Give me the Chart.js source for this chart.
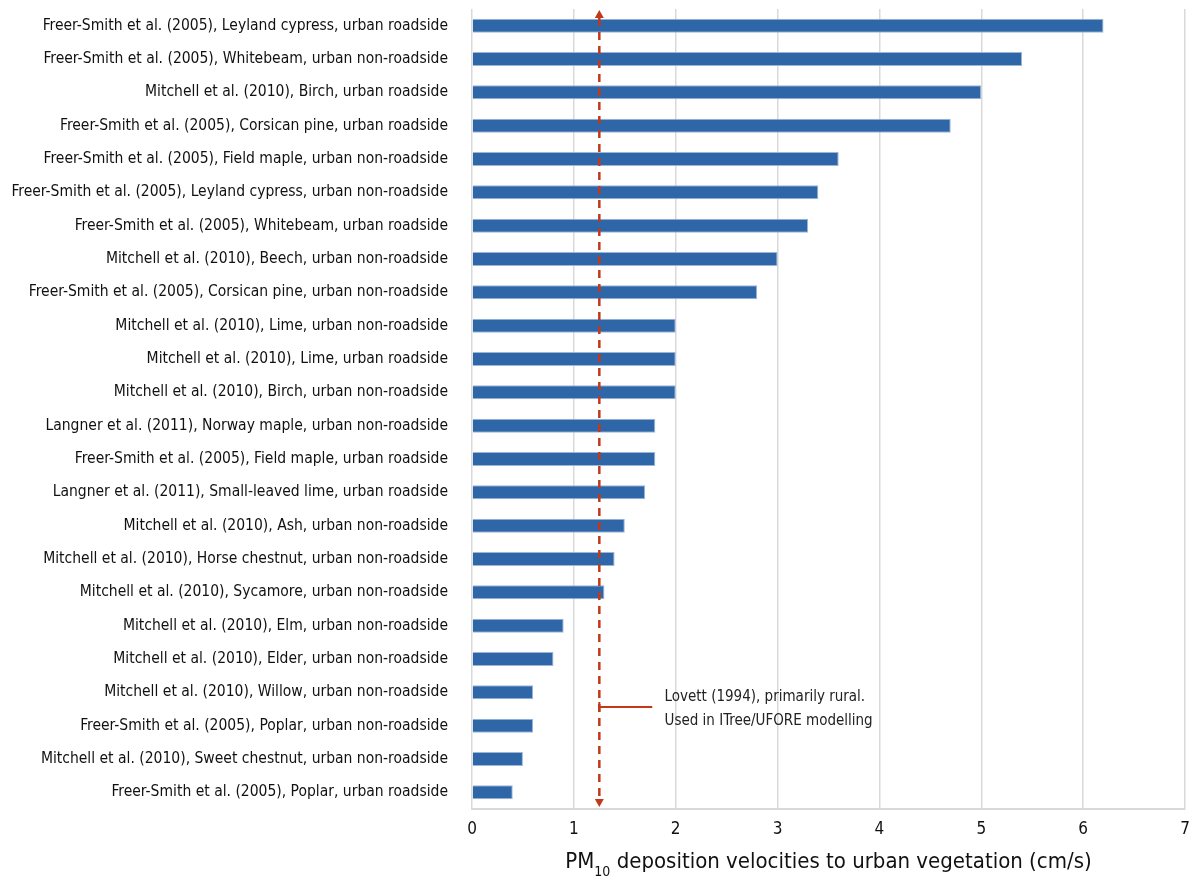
<!DOCTYPE html>
<html>
<head>
<meta charset="utf-8">
<script src="https://cdn.jsdelivr.net/npm/chart.js@4/dist/chart.umd.min.js"></script>
<style>
html,body{margin:0;padding:0;background:#fff;}
#wrap{width:1199px;height:881px;}
</style>
</head>
<body>
<div id="wrap"><canvas id="c" width="1199" height="881"></canvas></div>
<script>
const categories = [
  "Freer-Smith et al. (2005), Leyland cypress, urban roadside",
  "Freer-Smith et al. (2005), Whitebeam, urban non-roadside",
  "Mitchell et al. (2010), Birch, urban roadside",
  "Freer-Smith et al. (2005), Corsican pine, urban roadside",
  "Freer-Smith et al. (2005), Field maple, urban non-roadside",
  "Freer-Smith et al. (2005), Leyland cypress, urban non-roadside",
  "Freer-Smith et al. (2005), Whitebeam, urban roadside",
  "Mitchell et al. (2010), Beech, urban non-roadside",
  "Freer-Smith et al. (2005), Corsican pine, urban non-roadside",
  "Mitchell et al. (2010), Lime, urban non-roadside",
  "Mitchell et al. (2010), Lime, urban roadside",
  "Mitchell et al. (2010), Birch, urban non-roadside",
  "Langner et al. (2011), Norway maple, urban non-roadside",
  "Freer-Smith et al. (2005), Field maple, urban roadside",
  "Langner et al. (2011), Small-leaved lime, urban roadside",
  "Mitchell et al. (2010), Ash, urban non-roadside",
  "Mitchell et al. (2010), Horse chestnut, urban non-roadside",
  "Mitchell et al. (2010), Sycamore, urban non-roadside",
  "Mitchell et al. (2010), Elm, urban non-roadside",
  "Mitchell et al. (2010), Elder, urban non-roadside",
  "Mitchell et al. (2010), Willow, urban non-roadside",
  "Freer-Smith et al. (2005), Poplar, urban non-roadside",
  "Mitchell et al. (2010), Sweet chestnut, urban non-roadside",
  "Freer-Smith et al. (2005), Poplar, urban roadside"
];
const depositionVelocity = [6.2, 5.4, 5.0, 4.7, 3.6, 3.4, 3.3, 3.0, 2.8, 2.0, 2.0, 2.0, 1.8, 1.8, 1.7, 1.5, 1.4, 1.3, 0.9, 0.8, 0.6, 0.6, 0.5, 0.4];
const xTicks = [0, 1, 2, 3, 4, 5, 6, 7];
const lovettValue = 1.25;
const lovettLabel = ["Lovett (1994), primarily rural.", "Used in ITree/UFORE modelling"];
const lovettLabelCategory = 20.5; // between Willow and Poplar rows
const axisTitleMain = "PM";
const axisTitleSub = "10";
const axisTitleRest = " deposition velocities to urban vegetation (cm/s)";

const FONT = "'Liberation Sans Narrow', 'DejaVu Sans Condensed', 'Roboto', sans-serif";
const RED = "#c0391b";

const annotationPlugin = {
  id: 'lovett',
  afterDatasetsDraw(chart) {
    const ctx = chart.ctx;
    const xs = chart.scales.x, ys = chart.scales.y;
    const area = chart.chartArea;
    const px = xs.getPixelForValue(lovettValue);
    const top = area.top + 1, bottom = area.bottom - 2;
    ctx.save();
    ctx.strokeStyle = RED;
    ctx.fillStyle = RED;
    ctx.lineWidth = 2.5;
    ctx.setLineDash([8, 6]);
    ctx.beginPath();
    ctx.moveTo(px, top + 8);
    ctx.lineTo(px, bottom - 8);
    ctx.stroke();
    ctx.setLineDash([]);
    // arrow heads
    ctx.beginPath();
    ctx.moveTo(px, top); ctx.lineTo(px - 4.5, top + 8); ctx.lineTo(px + 4.5, top + 8); ctx.closePath(); ctx.fill();
    ctx.beginPath();
    ctx.moveTo(px, bottom); ctx.lineTo(px - 4.5, bottom - 8); ctx.lineTo(px + 4.5, bottom - 8); ctx.closePath(); ctx.fill();
    // annotation line
    const yl = ys.getPixelForValue(lovettLabelCategory) - 2;
    ctx.lineWidth = 2;
    ctx.beginPath();
    ctx.moveTo(px, yl); ctx.lineTo(xs.getPixelForValue(1.77), yl); ctx.stroke();
    ctx.beginPath();
    ctx.moveTo(px, yl - 5); ctx.lineTo(px, yl + 5); ctx.stroke();
    // text
    ctx.fillStyle = '#222';
    ctx.font = "15px " + FONT;
    ctx.textAlign = 'left';
    ctx.textBaseline = 'middle';
    const tx = xs.getPixelForValue(1.89);
    ctx.fillText(lovettLabel[0], tx, yl - 10);
    ctx.fillText(lovettLabel[1], tx, yl + 14);
    // axis title with subscript
    ctx.fillStyle = '#111';
    ctx.textBaseline = 'alphabetic';
    ctx.font = "22px " + FONT;
    const wMain = ctx.measureText(axisTitleMain).width;
    const wRest = ctx.measureText(axisTitleRest).width;
    ctx.font = "14px " + FONT;
    const wSub = ctx.measureText(axisTitleSub).width;
    const total = wMain + wSub + wRest;
    const cx = (area.left + area.right) / 2;
    let x0 = cx - total / 2;
    const by = 868;
    ctx.font = "22px " + FONT;
    ctx.fillText(axisTitleMain, x0, by);
    ctx.font = "14px " + FONT;
    ctx.fillText(axisTitleSub, x0 + wMain, by + 8);
    ctx.font = "22px " + FONT;
    ctx.fillText(axisTitleRest, x0 + wMain + wSub, by);
    ctx.restore();
  }
};

new Chart(document.getElementById('c'), {
  type: 'bar',
  data: {
    labels: categories,
    datasets: [{
      data: depositionVelocity,
      backgroundColor: '#2e66a8',
      borderColor: '#9db6d8',
      borderWidth: 1,
      barPercentage: 0.84,
      categoryPercentage: 0.5
    }]
  },
  options: {
    indexAxis: 'y',
    responsive: false,
    animation: false,
    devicePixelRatio: 1,
    layout: { padding: { top: 9, right: 14, bottom: 0, left: 0 } },
    plugins: { legend: { display: false }, tooltip: { enabled: false } },
    scales: {
      x: {
        min: 0, max: 7,
        afterBuildTicks: (s) => { s.ticks = xTicks.map(v => ({ value: v })); },
        afterFit: (s) => { s.height = 72; s.paddingLeft = 0; s.paddingRight = 0; },
        grid: { color: '#d9d9d9', lineWidth: 1.5, drawTicks: false },
        border: { color: '#d9d9d9', width: 2 },
        ticks: { color: '#111', font: { family: FONT, size: 17 }, padding: 10 }
      },
      y: {
        afterFit: (s) => { s.width = 472; s.paddingTop = 0; s.paddingBottom = 0; },
        grid: { display: false },
        border: { display: false },
        ticks: { color: '#111', font: { family: FONT, size: 15.5 }, padding: 16, autoSkip: false }
      }
    }
  },
  plugins: [annotationPlugin]
});
</script>
</body>
</html>
